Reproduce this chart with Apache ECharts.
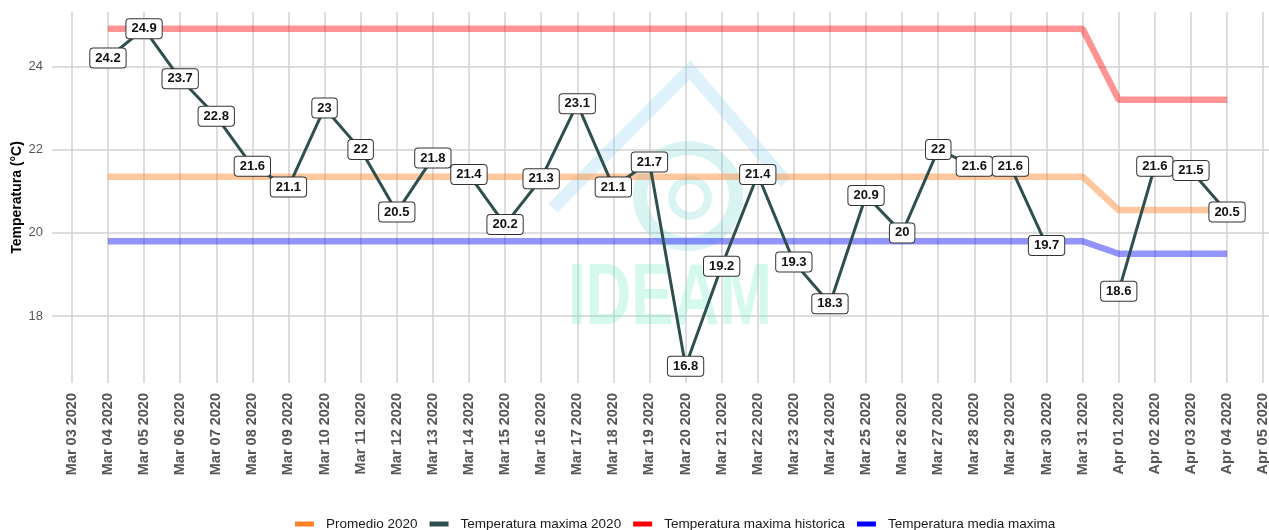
<!DOCTYPE html>
<html>
<head>
<meta charset="utf-8">
<script src="https://cdn.jsdelivr.net/npm/echarts@6/dist/echarts.min.js"></script>
<style>
  html, body { margin: 0; padding: 0; background: #fff; }
  #chart { width: 1269px; height: 530px; }
</style>
</head>
<body>
<div id="chart"></div>
<script>
// etiquetas del eje x (un tick por dia)
const tickLabels = [
  'Mar 03 2020', 'Mar 04 2020', 'Mar 05 2020', 'Mar 06 2020', 'Mar 07 2020', 'Mar 08 2020',
  'Mar 09 2020', 'Mar 10 2020', 'Mar 11 2020', 'Mar 12 2020', 'Mar 13 2020', 'Mar 14 2020',
  'Mar 15 2020', 'Mar 16 2020', 'Mar 17 2020', 'Mar 18 2020', 'Mar 19 2020', 'Mar 20 2020',
  'Mar 21 2020', 'Mar 22 2020', 'Mar 23 2020', 'Mar 24 2020', 'Mar 25 2020', 'Mar 26 2020',
  'Mar 27 2020', 'Mar 28 2020', 'Mar 29 2020', 'Mar 30 2020', 'Mar 31 2020', 'Apr 01 2020',
  'Apr 02 2020', 'Apr 03 2020', 'Apr 04 2020', 'Apr 05 2020'
];
// dias con datos
const days = [
  'Mar 04 2020', 'Mar 05 2020', 'Mar 06 2020', 'Mar 07 2020', 'Mar 08 2020', 'Mar 09 2020',
  'Mar 10 2020', 'Mar 11 2020', 'Mar 12 2020', 'Mar 13 2020', 'Mar 14 2020', 'Mar 15 2020',
  'Mar 16 2020', 'Mar 17 2020', 'Mar 18 2020', 'Mar 19 2020', 'Mar 20 2020', 'Mar 21 2020',
  'Mar 22 2020', 'Mar 23 2020', 'Mar 24 2020', 'Mar 25 2020', 'Mar 26 2020', 'Mar 27 2020',
  'Mar 28 2020', 'Mar 29 2020', 'Mar 30 2020', 'Mar 31 2020', 'Apr 01 2020', 'Apr 02 2020',
  'Apr 03 2020', 'Apr 04 2020'
];
const tempMax2020 = [
  24.2, 24.9, 23.7, 22.8, 21.6, 21.1, 23, 22, 20.5, 21.8, 21.4, 20.2,
  21.3, 23.1, 21.1, 21.7, 16.8, 19.2, 21.4, 19.3, 18.3, 20.9, 20, 22,
  21.6, 21.6, 19.7, null, 18.6, 21.6, 21.5, 20.5
];
const promedio2020 = [
  21.35, 21.35, 21.35, 21.35, 21.35, 21.35, 21.35, 21.35, 21.35, 21.35, 21.35, 21.35,
  21.35, 21.35, 21.35, 21.35, 21.35, 21.35, 21.35, 21.35, 21.35, 21.35, 21.35, 21.35,
  21.35, 21.35, 21.35, 21.35, 20.55, 20.55, 20.55, 20.55
];
const maxHistorica = [
  24.9, 24.9, 24.9, 24.9, 24.9, 24.9, 24.9, 24.9, 24.9, 24.9, 24.9, 24.9,
  24.9, 24.9, 24.9, 24.9, 24.9, 24.9, 24.9, 24.9, 24.9, 24.9, 24.9, 24.9,
  24.9, 24.9, 24.9, 24.9, 23.2, 23.2, 23.2, 23.2
];
const mediaMaxima = [
  19.8, 19.8, 19.8, 19.8, 19.8, 19.8, 19.8, 19.8, 19.8, 19.8, 19.8, 19.8,
  19.8, 19.8, 19.8, 19.8, 19.8, 19.8, 19.8, 19.8, 19.8, 19.8, 19.8, 19.8,
  19.8, 19.8, 19.8, 19.8, 19.5, 19.5, 19.5, 19.5
];
const yTicks = [18, 20, 22, 24];

const yMin = 16.395, yMax = 25.305;
const xTicks = tickLabels.map((_, i) => i);
const toPairs = vals => vals.map((v, i) => [tickLabels.indexOf(days[i]), v]);

const font = '"Liberation Sans", Arial, sans-serif';
const chart = echarts.init(document.getElementById('chart'));

const refLine = (name, vals, color) => ({
  name: name,
  type: 'line',
  data: toPairs(vals),
  symbol: 'none',
  silent: true,
  z: 2,
  lineStyle: { color: color, width: 6.5 },
  itemStyle: { color: color }
});

chart.setOption({
  animation: false,
  textStyle: { fontFamily: font },
  grid: { left: 52, top: 12, width: 1231, height: 371, outerBoundsMode: 'none', containLabel: false },
  graphic: [
    {
      type: 'polyline', silent: true, z: 1,
      shape: { points: [[553, 208], [690, 70], [786, 182]] },
      style: { stroke: 'rgba(150,210,240,0.3)', lineWidth: 13, fill: null }
    },
    {
      type: 'circle', silent: true, z: 1,
      shape: { cx: 688, cy: 196, r: 48 },
      style: { stroke: 'rgba(70,200,200,0.2)', lineWidth: 14, fill: null }
    },
    {
      type: 'circle', silent: true, z: 1,
      shape: { cx: 690, cy: 198, r: 18 },
      style: { stroke: 'rgba(70,200,200,0.2)', lineWidth: 8, fill: null }
    },
    {
      type: 'text', silent: true, z: 1,
      x: 670, y: 300, scaleX: 0.72,
      style: {
        text: 'IDEAM', fontSize: 88, fontWeight: 'bold', fontFamily: font,
        fill: 'rgba(120,235,200,0.3)', align: 'center', verticalAlign: 'middle'
      }
    }
  ],
  legend: {
    left: 290,
    top: 512,
    icon: 'rect',
    itemWidth: 19,
    itemHeight: 5,
    itemGap: 12,
    textStyle: { fontSize: 13.5, color: '#1a1a1a', fontFamily: font, padding: [0, 0, 0, 7] },
    data: [
      { name: 'Promedio 2020', itemStyle: { color: '#ff8228', opacity: 1 } },
      { name: 'Temperatura maxima 2020', itemStyle: { color: '#2f4f4f', opacity: 1 } },
      { name: 'Temperatura maxima historica', itemStyle: { color: '#ff0000', opacity: 1 } },
      { name: 'Temperatura media maxima', itemStyle: { color: '#0000ff', opacity: 1 } }
    ]
  },
  xAxis: {
    type: 'value',
    min: -0.55,
    max: 33.55,
    axisLine: { show: false },
    axisTick: { show: false, customValues: xTicks },
    splitLine: { show: true, lineStyle: { color: '#d2d2d2', width: 1.5 } },
    axisLabel: {
      customValues: xTicks,
      rotate: 90,
      margin: 10,
      fontSize: 14.5,
      fontWeight: 'bold',
      color: '#555',
      formatter: v => tickLabels[Math.round(v)] || ''
    }
  },
  yAxis: {
    type: 'value',
    min: yMin,
    max: yMax,
    name: 'Temperatura (°C)',
    nameLocation: 'middle',
    nameGap: 28,
    nameMoveOverlap: false,
    nameTextStyle: { fontSize: 14, fontWeight: 'bold', color: '#000' },
    axisLine: { show: false },
    axisTick: { show: false, customValues: yTicks },
    splitLine: { show: true, lineStyle: { color: '#d2d2d2', width: 1.5 } },
    axisLabel: { customValues: yTicks, margin: 9, fontSize: 13, color: '#555' }
  },
  series: [
    refLine('Promedio 2020', promedio2020, 'rgba(255,130,40,0.45)'),
    refLine('Temperatura maxima historica', maxHistorica, 'rgba(255,0,0,0.42)'),
    refLine('Temperatura media maxima', mediaMaxima, 'rgba(0,0,255,0.42)'),
    {
      name: 'Temperatura maxima 2020',
      type: 'line',
      data: toPairs(tempMax2020),
      z: 5,
      symbol: 'circle',
      symbolSize: 2,
      showAllSymbol: true,
      lineStyle: { color: '#2f4f4f', width: 3 },
      itemStyle: { color: '#2f4f4f' },
      label: {
        show: true,
        position: 'inside',
        formatter: p => p.value[1],
        fontSize: 13,
        fontWeight: 'bold',
        color: '#111',
        lineHeight: 14,
        backgroundColor: '#fff',
        borderColor: '#333',
        borderWidth: 1,
        borderRadius: 3,
        padding: [3, 5, 2, 5]
      }
    }
  ]
});

window.addEventListener('resize', function () {
  chart.resize();
});
</script>
</body>
</html>
